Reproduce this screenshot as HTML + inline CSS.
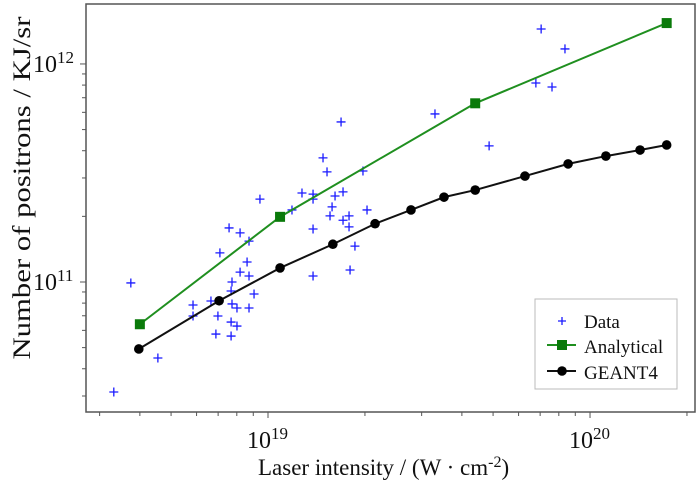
<!DOCTYPE html>
<html><head><meta charset="utf-8"><style>
body{margin:0;background:#fff;}
svg{display:block;font-family:"Liberation Serif",serif;}
</style></head><body>
<svg id="chart" width="700" height="481" viewBox="0 0 700 481" xmlns="http://www.w3.org/2000/svg"></svg>
<script>
// Data (x in units of 1e19 W/cm^2, y in units of 1e11 positrons/kJ/sr)
const dataX = [1.686,1.482,1.525,1.972,1.275,1.380,1.380,1.615,1.710,1.187,1.581,1.558,1.785,1.710,1.785,2.03,1.380,1.862,1.798,1.380,0.944,0.757,0.819,0.873,0.709,0.861,0.819,0.873,0.773,0.768,0.905,0.665,0.585,0.585,0.773,0.801,0.873,0.699,0.768,0.801,0.689,0.768,0.375,0.455,0.332,7.05,8.36,6.79,7.62,3.30,4.86];
const dataY = [5.42,3.71,3.20,3.23,2.56,2.53,2.40,2.48,2.59,2.14,2.21,2.01,2.01,1.92,1.79,2.14,1.75,1.46,1.135,1.065,2.40,1.77,1.68,1.54,1.36,1.235,1.11,1.065,1.0,0.909,0.881,0.818,0.784,0.698,0.793,0.760,0.760,0.698,0.655,0.628,0.577,0.565,0.99,0.448,0.313,14.47,11.72,8.18,7.84,5.90,4.21];
const anaX = [0.40,1.09,4.4,17.3];
const anaY = [0.64,1.99,6.6,15.4];
const geantX = [0.397,0.705,1.09,1.59,2.15,2.78,3.52,4.4,6.28,8.55,11.2,14.3,17.3];
const geantY = [0.493,0.82,1.16,1.49,1.85,2.14,2.45,2.64,3.06,3.48,3.78,4.03,4.25];
const xMajor = [1, 10];
const xMajorLabels = ["19", "20"];
const yMajor = [1, 10];
const yMajorLabels = ["11", "12"];

const L=86,R=695,T=4,B=412;
const xLogMin=-0.5652, xLogMax=1.326;
const yLogMin=-0.5963, yLogMax=1.275;
function sx(v){return L+(Math.log10(v)-xLogMin)/(xLogMax-xLogMin)*(R-L);}
function sy(v){return B-(Math.log10(v)-yLogMin)/(yLogMax-yLogMin)*(B-T);}

const svg=document.getElementById('chart');
const NS="http://www.w3.org/2000/svg";
function mk(tag,attrs,parent){const e=document.createElementNS(NS,tag);for(const k in attrs)e.setAttribute(k,attrs[k]);(parent||svg).appendChild(e);return e;}

const frame=mk('rect',{x:L,y:T,width:R-L,height:B-T,fill:'none',stroke:'#555','stroke-width':1.5});



for(let d=0.1;d<=20;d*=10){for(let k=1;k<10;k++){const v=d*k;const px=sx(v);if(px<L||px>R)continue;const major=(k===1);
 const t=mk('line',{x1:px,x2:px,y1:B,y2:B+(major?6:4),stroke:'#555','stroke-width':1});
 
 }}
xMajor.forEach((v,i)=>{const g=mk('text',{x:sx(v)-21,y:448,'font-size':24,fill:'#111'});
 
 
 g.textContent='10';const s=mk('tspan',{dy:-9,'font-size':17},g);s.textContent=xMajorLabels[i];});
for(let d=0.1;d<=20;d*=10){for(let k=1;k<10;k++){const v=d*k;const py=sy(v);if(py<T||py>B)continue;const major=(k===1);
 const t=mk('line',{x1:L,x2:L-(major?6:4),y1:py,y2:py,stroke:'#555','stroke-width':1});
 
 }}
yMajor.forEach((v,i)=>{const g=mk('text',{x:33,y:sy(v)+8,'font-size':24,fill:'#111'});
 
 
 g.textContent='10';const s=mk('tspan',{dy:-9,'font-size':17},g);s.textContent=yMajorLabels[i];});

const xt=mk('text',{x:258,y:475,'font-size':23,fill:'#111'});


const t1=mk('tspan',{},xt);t1.textContent='Laser intensity / (W · cm';
const sup=mk('tspan',{dy:-8,'font-size':16},xt);sup.textContent='-2';
const cl=mk('tspan',{dy:8},xt);cl.textContent=')';
const yt=mk('text',{x:0,y:0,'font-size':25,'text-anchor':'middle',fill:'#111',textLength:343,lengthAdjust:'spacingAndGlyphs',transform:'translate(30,188) rotate(-90)'});


yt.textContent='Number of positrons / KJ/sr';

dataX.forEach((v,i)=>{const x=sx(v),y=sy(dataY[i]);
 const p=mk('path',{d:`M${x-4.5},${y}H${x+4.5}M${x},${y-4.5}V${y+4.5}`,stroke:'#1a1aff','stroke-width':1.3});
 
 });

const ap=mk('polyline',{points:anaX.map((v,i)=>sx(v)+','+sy(anaY[i])).join(' '),fill:'none',stroke:'#1f8f1f','stroke-width':2});


anaX.forEach((v,i)=>{const r=mk('rect',{x:sx(v)-5,y:sy(anaY[i])-5,width:10,height:10,fill:'#0a7a0a'});
 
 });

const gp=mk('polyline',{points:geantX.map((v,i)=>sx(v)+','+sy(geantY[i])).join(' '),fill:'none',stroke:'#111','stroke-width':2});


geantX.forEach((v,i)=>{const c=mk('circle',{cx:sx(v),cy:sy(geantY[i]),r:4.8,fill:'#000'});
 
 });

const lg=mk('g',{});


mk('rect',{x:535,y:299,width:142,height:90,fill:'#fff',stroke:'#bbb','stroke-width':1},lg);
mk('path',{d:'M558,321H566M562,317V325',stroke:'#1a1aff','stroke-width':1.3},lg);
mk('line',{x1:547,x2:576,y1:345,y2:345,stroke:'#1f8f1f','stroke-width':2},lg);
mk('rect',{x:557,y:340,width:10,height:10,fill:'#0a7a0a'},lg);
mk('line',{x1:547,x2:576,y1:371,y2:371,stroke:'#111','stroke-width':2},lg);
mk('circle',{cx:562,cy:371,r:4.8,fill:'#000'},lg);
[['Data',328,'legend-entry-data'],['Analytical',353,'legend-entry-analytical'],['GEANT4',379,'legend-entry-geant4']].forEach(a=>{
 const t=mk('text',{x:584,y:a[1],'font-size':19,fill:'#111'},lg);
 
 
 t.textContent=a[0];});
</script>
</body></html>
